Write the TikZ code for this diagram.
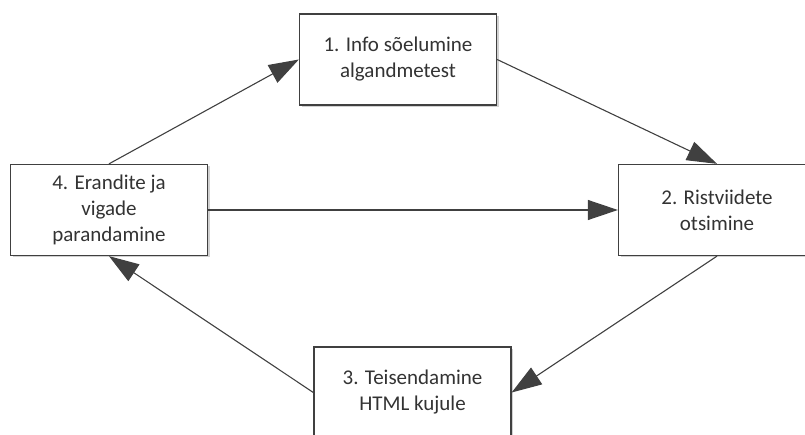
\documentclass[tikz,border=0pt]{standalone}
\usepackage{fontspec}
\setmainfont{Carlito}
\usetikzlibrary{arrows.meta,shadows}

\definecolor{linegray}{HTML}{404040}
\definecolor{textgray}{HTML}{333333}

\tikzset{
  stage/.style={draw=linegray, line width=1.3pt, fill=white,
    minimum width=197pt, minimum height=91pt, inner sep=0pt,
    align=center, text=textgray, font=\fontsize{21}{26}\selectfont,
    drop shadow={shadow xshift=2pt, shadow yshift=-2pt, fill=black, opacity=0.18}},
  flow/.style={draw=linegray, line width=1.1pt,
    -{Triangle[length=30pt,width=20pt]}}
}

\begin{document}
\begin{tikzpicture}[x=1pt,y=-1pt]
\useasboundingbox (0,0) rectangle (805,435);

% the four stages of the loop
\node[stage] (info) at (398,59.5) {1. Info sõelumine\\algandmetest};
\node[stage] (ref)  at (717,210) {2. Ristviidete\\otsimine};
\node[stage] (html) at (412.5,392.5) {3. Teisendamine\\HTML kujule};
\node[stage] (err)  at (109,210) {4. Erandite ja\\vigade\\parandamine};

% connectors
\draw[flow] (err.north) -- (info.west);
\draw[flow] (info.east) -- (ref.north);
\draw[flow] (err.east) -- (ref.west);
\draw[flow] (ref.south) -- (html.east);
\draw[flow] (html.west) -- (err.south);
\end{tikzpicture}
\end{document}
